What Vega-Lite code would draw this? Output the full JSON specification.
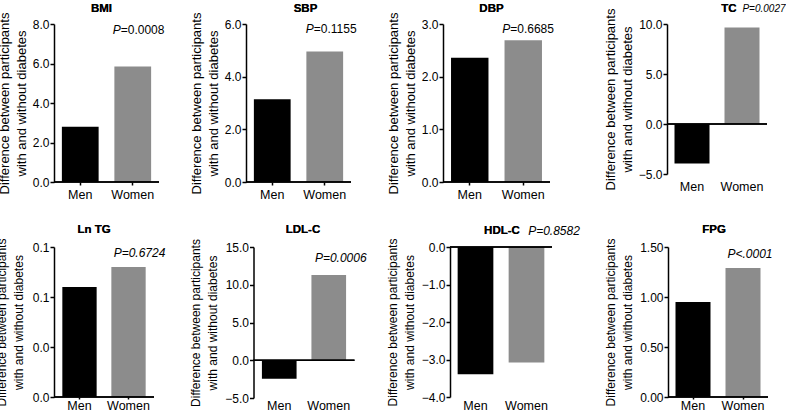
{
  "$schema": "https://vega.github.io/schema/vega-lite/v6.json",
  "background": "white",
  "padding": {"left": -5, "top": 3, "right": 0, "bottom": 0},
  "config": {
    "font": "Liberation Sans",
    "view": {"stroke": null},
    "axis": {"grid": false, "labelOverlap": false, "labelColor": "#000", "titleColor": "#000", "domainColor": "#000", "tickColor": "#000", "labelFontSize": 12, "labelFont": "Liberation Sans", "titleFont": "Liberation Sans"},
    "axisY": {"domainWidth": 1.5, "tickWidth": 1.5, "tickSize": 4, "labelPadding": 1, "titleFontSize": 13, "titleFontWeight": "normal", "titlePadding": 4, "titleLineHeight": 17},
    "axisX": {"domain": false, "ticks": false, "title": null, "labelAngle": 0, "labelPadding": 5, "labelFontSize": 12.5, "tickWidth": 1.5},
    "text": {"font": "Liberation Sans", "fontSize": 12, "color": "#000"}
  },
  "datasets": {
    "d": [
      {"panel": "BMI", "sex": "Men", "value": 2.80},
      {"panel": "BMI", "sex": "Women", "value": 5.85, "p": "=0.0008"},
      {"panel": "SBP", "sex": "Men", "value": 3.14},
      {"panel": "SBP", "sex": "Women", "value": 4.96, "p": "=0.1155"},
      {"panel": "DBP", "sex": "Men", "value": 2.36},
      {"panel": "DBP", "sex": "Women", "value": 2.69, "p": "=0.6685"},
      {"panel": "TC", "sex": "Men", "value": -3.95},
      {"panel": "TC", "sex": "Women", "value": 9.65, "p": "P=0.0027"},
      {"panel": "Ln TG", "sex": "Men", "value": 0.110},
      {"panel": "Ln TG", "sex": "Women", "value": 0.130, "p": "P=0.6724"},
      {"panel": "LDL-C", "sex": "Men", "value": -2.44},
      {"panel": "LDL-C", "sex": "Women", "value": 11.29, "p": "P=0.0006"},
      {"panel": "HDL-C", "sex": "Men", "value": -3.39},
      {"panel": "HDL-C", "sex": "Women", "value": -3.08, "p": "P=0.8582"},
      {"panel": "FPG", "sex": "Men", "value": 0.95},
      {"panel": "FPG", "sex": "Women", "value": 1.29, "p": "P<.0001"}
    ]
  },
  "vconcat": [
    {
      "hconcat": [
        {
          "hconcat": [
            {
              "width": 105, "height": 158,
              "data": {"name": "d"},
              "transform": [{"filter": "datum.panel === 'BMI'"}],
              "layer": [
                {"mark": {"type": "bar"},
                 "encoding": {
                   "x": {"field": "sex", "type": "nominal", "sort": ["Men", "Women"], "scale": {"paddingInner": 0.3, "paddingOuter": 0.15}, "axis": {"ticks": true, "tickSize": 3, "labelPadding": 3}},
                   "y": {"field": "value", "type": "quantitative", "scale": {"domain": [0, 8], "nice": false, "zero": false}, "axis": {"values": [0, 2, 4, 6, 8], "tickCount": 10, "format": ".1f", "labelOverlap": false, "title": ["Difference between participants", "with and without diabetes"]}},
                   "color": {"field": "sex", "type": "nominal", "scale": {"domain": ["Men", "Women"], "range": ["#000000", "#8c8c8c"]}, "legend": null}}},
                {"mark": {"type": "rule", "strokeWidth": 1.5, "color": "#000"}, "encoding": {"y": {"datum": 0}}},
                {"mark": {"type": "text", "text": "BMI", "fontWeight": "bold", "fontSize": 11.5, "baseline": "middle", "dx": -5, "dy": -15}, "encoding": {"y": {"datum": 8}}},
                {"transform": [{"filter": "isValid(datum.p)"}],
                 "mark": {"type": "text", "text": "P", "fontStyle": "italic", "align": "right", "baseline": "middle", "dx": -12, "dy": 6},
                 "encoding": {"x": {"field": "sex", "type": "nominal"}, "y": {"datum": 8}}},
                {"transform": [{"filter": "isValid(datum.p)"}],
                 "mark": {"type": "text", "align": "left", "baseline": "middle", "dx": -12, "dy": 6},
                 "encoding": {"x": {"field": "sex", "type": "nominal"}, "y": {"datum": 8}, "text": {"field": "p"}}}
              ]
            },
            {
              "width": 105, "height": 158,
              "data": {"name": "d"},
              "transform": [{"filter": "datum.panel === 'SBP'"}],
              "layer": [
                {"mark": {"type": "bar"},
                 "encoding": {
                   "x": {"field": "sex", "type": "nominal", "sort": ["Men", "Women"], "scale": {"paddingInner": 0.3, "paddingOuter": 0.15}, "axis": {"ticks": true, "tickSize": 3, "labelPadding": 3}},
                   "y": {"field": "value", "type": "quantitative", "scale": {"domain": [0, 6], "nice": false, "zero": false}, "axis": {"values": [0, 2, 4, 6], "tickCount": 10, "format": ".1f", "labelOverlap": false, "title": ["Difference between participants", "with and without diabetes"]}},
                   "color": {"field": "sex", "type": "nominal", "scale": {"domain": ["Men", "Women"], "range": ["#000000", "#8c8c8c"]}, "legend": null}}},
                {"mark": {"type": "rule", "strokeWidth": 1.5, "color": "#000"}, "encoding": {"y": {"datum": 0}}},
                {"mark": {"type": "text", "text": "SBP", "fontWeight": "bold", "fontSize": 11.5, "baseline": "middle", "dx": 7, "dy": -15}, "encoding": {"y": {"datum": 6}}},
                {"transform": [{"filter": "isValid(datum.p)"}],
                 "mark": {"type": "text", "text": "P", "fontStyle": "italic", "align": "right", "baseline": "middle", "dx": -11, "dy": 5},
                 "encoding": {"x": {"field": "sex", "type": "nominal"}, "y": {"datum": 6}}},
                {"transform": [{"filter": "isValid(datum.p)"}],
                 "mark": {"type": "text", "align": "left", "baseline": "middle", "dx": -11, "dy": 5},
                 "encoding": {"x": {"field": "sex", "type": "nominal"}, "y": {"datum": 6}, "text": {"field": "p"}}}
              ]
            }
          ],
          "spacing": 87,
          "bounds": "flush"
        },
        {
          "hconcat": [
            {
              "width": 107, "height": 158,
              "data": {"name": "d"},
              "transform": [{"filter": "datum.panel === 'DBP'"}],
              "layer": [
                {"mark": {"type": "bar"},
                 "encoding": {
                   "x": {"field": "sex", "type": "nominal", "sort": ["Men", "Women"], "scale": {"paddingInner": 0.3, "paddingOuter": 0.15}, "axis": {"ticks": true, "tickSize": 3, "labelPadding": 3}},
                   "y": {"field": "value", "type": "quantitative", "scale": {"domain": [0, 3], "nice": false, "zero": false}, "axis": {"values": [0, 1, 2, 3], "tickCount": 10, "format": ".1f", "labelOverlap": false, "title": ["Difference between participants", "with and without diabetes"]}},
                   "color": {"field": "sex", "type": "nominal", "scale": {"domain": ["Men", "Women"], "range": ["#000000", "#8c8c8c"]}, "legend": null}}},
                {"mark": {"type": "rule", "strokeWidth": 1.5, "color": "#000"}, "encoding": {"y": {"datum": 0}}},
                {"mark": {"type": "text", "text": "DBP", "fontWeight": "bold", "fontSize": 11.5, "baseline": "middle", "dx": -5, "dy": -15}, "encoding": {"y": {"datum": 3}}},
                {"transform": [{"filter": "isValid(datum.p)"}],
                 "mark": {"type": "text", "text": "P", "fontStyle": "italic", "align": "right", "baseline": "middle", "dx": -13, "dy": 5},
                 "encoding": {"x": {"field": "sex", "type": "nominal"}, "y": {"datum": 3}}},
                {"transform": [{"filter": "isValid(datum.p)"}],
                 "mark": {"type": "text", "align": "left", "baseline": "middle", "dx": -13, "dy": 5},
                 "encoding": {"x": {"field": "sex", "type": "nominal"}, "y": {"datum": 3}, "text": {"field": "p"}}}
              ]
            },
            {
              "width": 100, "height": 150,
              "data": {"name": "d"},
              "transform": [{"filter": "datum.panel === 'TC'"}],
              "layer": [
                {"mark": {"type": "bar"},
                 "encoding": {
                   "x": {"field": "sex", "type": "nominal", "sort": ["Men", "Women"], "scale": {"paddingInner": 0.3, "paddingOuter": 0.15}, "axis": {"labelPadding": 6}},
                   "y": {"field": "value", "type": "quantitative", "scale": {"domain": [-5, 10], "nice": false, "zero": false}, "axis": {"values": [-5, 0, 5, 10], "tickCount": 10, "format": ".1f", "labelOverlap": false, "title": ["Difference between participants", "with and without diabetes"]}},
                   "color": {"field": "sex", "type": "nominal", "scale": {"domain": ["Men", "Women"], "range": ["#000000", "#8c8c8c"]}, "legend": null}}},
                {"mark": {"type": "rule", "strokeWidth": 1.5, "color": "#000"}, "encoding": {"y": {"datum": 0}}},
                {"mark": {"type": "text", "text": "TC", "fontWeight": "bold", "fontSize": 11.5, "baseline": "middle", "dx": 12, "dy": -15}, "encoding": {"y": {"datum": 10}}},
                {"transform": [{"filter": "isValid(datum.p)"}],
                 "mark": {"type": "text", "fontStyle": "italic", "fontSize": 10, "align": "center", "baseline": "middle", "dx": 22, "dy": -15},
                 "encoding": {"x": {"field": "sex", "type": "nominal"}, "y": {"datum": 10}, "text": {"field": "p"}}}
              ]
            }
          ],
          "spacing": 117,
          "bounds": "flush"
        }
      ],
      "spacing": 30
    },
    {
      "hconcat": [
        {
          "hconcat": [
            {
              "width": 100, "height": 150,
              "data": {"name": "d"},
              "transform": [{"filter": "datum.panel === 'Ln TG'"}],
              "layer": [
                {"mark": {"type": "bar"},
                 "encoding": {
                   "x": {"field": "sex", "type": "nominal", "sort": ["Men", "Women"], "scale": {"paddingInner": 0.3, "paddingOuter": 0.17}, "axis": {"ticks": true, "tickSize": 2, "labelPadding": 0}},
                   "y": {"field": "value", "type": "quantitative", "scale": {"domain": [0, 0.15], "nice": false, "zero": false}, "axis": {"values": [0, 0.05, 0.1, 0.15], "tickCount": 10, "labelExpr": "datum.value < 0.07 ? '0.0' : '0.1'", "labelOverlap": false, "titleFontSize": 12, "titlePadding": 7, "title": ["Difference between participants", "with and without diabetes"]}},
                   "color": {"field": "sex", "type": "nominal", "scale": {"domain": ["Men", "Women"], "range": ["#000000", "#8c8c8c"]}, "legend": null}}},
                {"mark": {"type": "rule", "strokeWidth": 1.5, "color": "#000"}, "encoding": {"y": {"datum": 0}}},
                {"mark": {"type": "text", "text": "Ln TG", "fontWeight": "bold", "fontSize": 11.5, "baseline": "middle", "dx": -10, "dy": -17}, "encoding": {"y": {"datum": 0.15}}},
                {"transform": [{"filter": "isValid(datum.p)"}],
                 "mark": {"type": "text", "fontStyle": "italic", "align": "center", "baseline": "middle", "dx": 11, "dy": 6},
                 "encoding": {"x": {"field": "sex", "type": "nominal"}, "y": {"datum": 0.15}, "text": {"field": "p"}}}
              ]
            },
            {
              "width": 101, "height": 151,
              "data": {"name": "d"},
              "transform": [{"filter": "datum.panel === 'LDL-C'"}],
              "layer": [
                {"mark": {"type": "bar"},
                 "encoding": {
                   "x": {"field": "sex", "type": "nominal", "sort": ["Men", "Women"], "scale": {"paddingInner": 0.3, "paddingOuter": 0.17}, "axis": {"labelPadding": 1}},
                   "y": {"field": "value", "type": "quantitative", "scale": {"domain": [-5, 15], "nice": false, "zero": false}, "axis": {"values": [-5, 0, 5, 10, 15], "tickCount": 10, "format": ".1f", "labelOverlap": false, "titleFontSize": 12, "titlePadding": 5, "title": ["Difference between participants", "with and without diabetes"]}},
                   "color": {"field": "sex", "type": "nominal", "scale": {"domain": ["Men", "Women"], "range": ["#000000", "#8c8c8c"]}, "legend": null}}},
                {"mark": {"type": "rule", "strokeWidth": 1.5, "color": "#000"}, "encoding": {"y": {"datum": 0}}},
                {"mark": {"type": "text", "text": "LDL-C", "fontWeight": "bold", "fontSize": 11.5, "baseline": "middle", "dx": -1, "dy": -17}, "encoding": {"y": {"datum": 15}}},
                {"transform": [{"filter": "isValid(datum.p)"}],
                 "mark": {"type": "text", "fontStyle": "italic", "align": "center", "baseline": "middle", "dx": 12, "dy": 11},
                 "encoding": {"x": {"field": "sex", "type": "nominal"}, "y": {"datum": 15}, "text": {"field": "p"}}}
              ]
            }
          ],
          "spacing": 99.5,
          "bounds": "flush"
        },
        {
          "hconcat": [
            {
              "width": 102, "height": 150,
              "data": {"name": "d"},
              "transform": [{"filter": "datum.panel === 'HDL-C'"}],
              "layer": [
                {"mark": {"type": "bar"},
                 "encoding": {
                   "x": {"field": "sex", "type": "nominal", "sort": ["Men", "Women"], "scale": {"paddingInner": 0.3, "paddingOuter": 0.15}, "axis": {"labelPadding": 2}},
                   "y": {"field": "value", "type": "quantitative", "scale": {"domain": [-4, 0], "nice": false, "zero": false}, "axis": {"values": [-4, -3, -2, -1, 0], "tickCount": 10, "format": ".1f", "labelOverlap": false, "titleFontSize": 12, "titlePadding": 5, "title": ["Difference between participants", "with and without diabetes"]}},
                   "color": {"field": "sex", "type": "nominal", "scale": {"domain": ["Men", "Women"], "range": ["#000000", "#8c8c8c"]}, "legend": null}}},
                {"mark": {"type": "rule", "strokeWidth": 1.5, "color": "#000"}, "encoding": {"y": {"datum": 0}}},
                {"mark": {"type": "text", "text": "HDL-C", "fontWeight": "bold", "fontSize": 11.5, "baseline": "middle", "dx": 1, "dy": -16}, "encoding": {"y": {"datum": 0}}},
                {"transform": [{"filter": "isValid(datum.p)"}],
                 "mark": {"type": "text", "fontStyle": "italic", "align": "center", "baseline": "middle", "dx": 27.5, "dy": -16},
                 "encoding": {"x": {"field": "sex", "type": "nominal"}, "y": {"datum": 0}, "text": {"field": "p"}}}
              ]
            },
            {
              "width": 100, "height": 150,
              "data": {"name": "d"},
              "transform": [{"filter": "datum.panel === 'FPG'"}],
              "layer": [
                {"mark": {"type": "bar"},
                 "encoding": {
                   "x": {"field": "sex", "type": "nominal", "sort": ["Men", "Women"], "scale": {"paddingInner": 0.3, "paddingOuter": 0.15}, "axis": {"ticks": true, "tickSize": 2, "labelPadding": 0}},
                   "y": {"field": "value", "type": "quantitative", "scale": {"domain": [0, 1.5], "nice": false, "zero": false}, "axis": {"values": [0, 0.5, 1, 1.5], "tickCount": 10, "format": ".2f", "labelOverlap": false, "titleFontSize": 12, "titlePadding": 5, "title": ["Difference between participants", "with and without diabetes"]}},
                   "color": {"field": "sex", "type": "nominal", "scale": {"domain": ["Men", "Women"], "range": ["#000000", "#8c8c8c"]}, "legend": null}}},
                {"mark": {"type": "rule", "strokeWidth": 1.5, "color": "#000"}, "encoding": {"y": {"datum": 0}}},
                {"mark": {"type": "text", "text": "FPG", "fontWeight": "bold", "fontSize": 11.5, "baseline": "middle", "dx": -4, "dy": -17}, "encoding": {"y": {"datum": 1.5}}},
                {"transform": [{"filter": "isValid(datum.p)"}],
                 "mark": {"type": "text", "fontStyle": "italic", "align": "center", "baseline": "middle", "dx": 7, "dy": 7},
                 "encoding": {"x": {"field": "sex", "type": "nominal"}, "y": {"datum": 1.5}, "text": {"field": "p"}}}
              ]
            }
          ],
          "spacing": 116,
          "bounds": "flush"
        }
      ],
      "spacing": 19
    }
  ],
  "spacing": 23
}
